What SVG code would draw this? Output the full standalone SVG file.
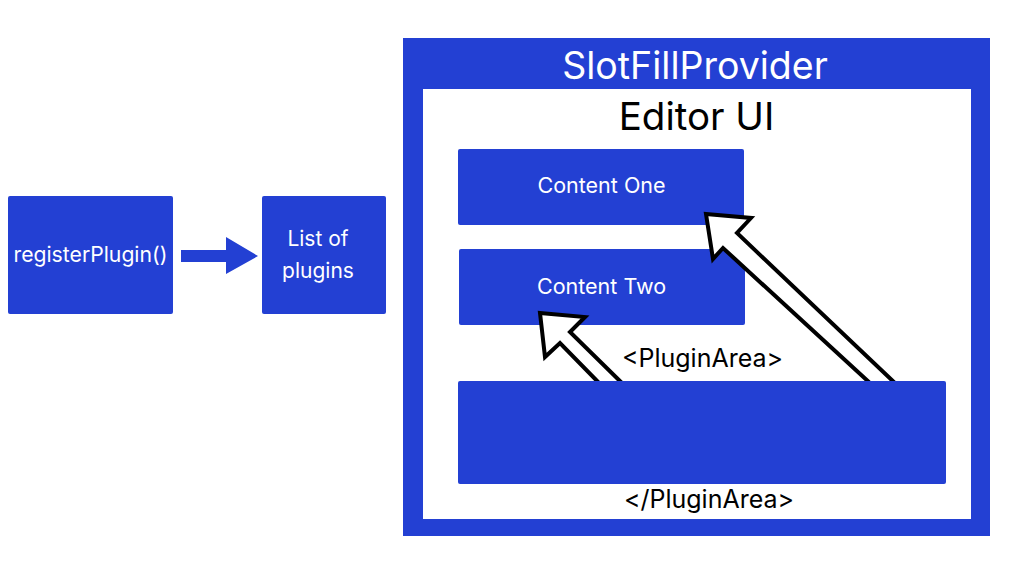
<svg xmlns="http://www.w3.org/2000/svg" width="1024" height="576" viewBox="0 0 1024 576">
<style>
.box{fill:#2340d3}
.wt{fill:#ffffff;font-family:Inter,"Noto Sans",sans-serif;text-anchor:middle}
.bt{fill:#000000;font-family:Inter,"Noto Sans",sans-serif;text-anchor:middle}
.hollow{fill:#ffffff;stroke:#000000;stroke-width:4;stroke-linejoin:miter}
</style>
<rect width="1024" height="576" fill="#ffffff"/>
<g id="slotfillprovider">
<rect class="box" x="403" y="38" width="587" height="498"/>
<text class="wt" x="695" y="79" font-size="37.5">SlotFillProvider</text>
</g>
<g id="editor-ui">
<rect x="423" y="89" width="548" height="430" fill="#ffffff"/>
<text class="bt" x="696.5" y="130" font-size="38.5">Editor UI</text>
</g>
<g id="register-plugin">
<rect class="box" x="8" y="196" width="165" height="118" rx="2"/>
<text class="wt" x="90.5" y="262" font-size="21.2">registerPlugin()</text>
</g>
<g id="list-of-plugins">
<rect class="box" x="262" y="196" width="124" height="118" rx="2"/>
<text class="wt" x="318" y="246" font-size="21">List of</text>
<text class="wt" x="318" y="278" font-size="21">plugins</text>
</g>
<g id="content-one">
<rect class="box" x="458" y="149" width="286" height="76" rx="2"/>
<text class="wt" x="601.5" y="193" font-size="21.5">Content One</text>
</g>
<g id="content-two">
<rect class="box" x="459" y="249" width="286" height="76" rx="2"/>
<text class="wt" x="601.5" y="294" font-size="21.5">Content Two</text>
</g>
<g id="connectors">
<polygon class="box" points="181,250 226,250 226,237 258,256 226,274 226,262 181,262"/>
<polygon class="hollow" points="540,313 585,317 570,332 623,384 600,384 560,343 545,357"/>
<polygon class="hollow" points="706,214 751,218 737,233 896,384 871,384 723,248 713,259"/>
</g>
<g id="plugin-area">
<text class="bt" x="702.5" y="367" font-size="25">&lt;PluginArea&gt;</text>
<rect class="box" x="458" y="381" width="488" height="103" rx="2"/>
<text class="bt" x="709" y="508" font-size="25">&lt;/PluginArea&gt;</text>
</g>
</svg>
